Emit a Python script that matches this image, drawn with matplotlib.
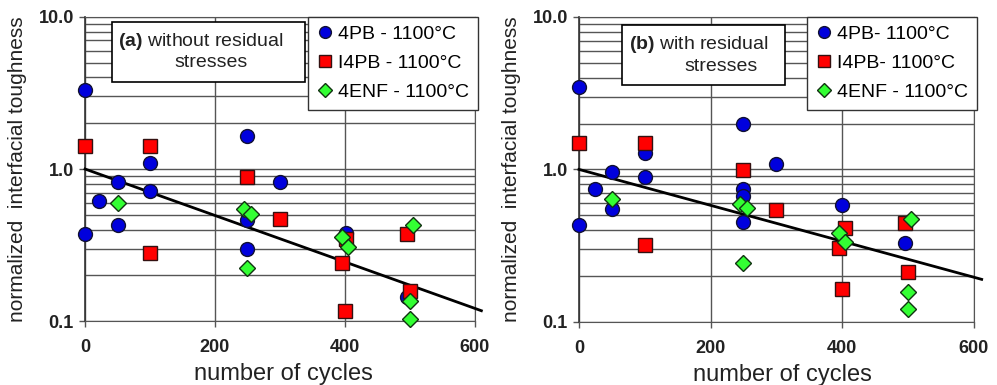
import numpy as np
import matplotlib
matplotlib.use("Agg")
import matplotlib.pyplot as plt
from matplotlib.patches import Rectangle

plt.rcParams['font.family'] = ['Liberation Sans', 'DejaVu Sans']
plt.rcParams['mathtext.fontset'] = 'custom'
plt.rcParams['mathtext.bf'] = 'Liberation Sans:bold'
plt.rcParams['mathtext.rm'] = 'Liberation Sans'

# panel (a): without residual stresses
a_4pb_x = [0, 0, 22, 50, 50, 100, 100, 250, 250, 250, 300, 402, 495]
a_4pb_y = [3.29, 0.374, 0.62, 0.817, 0.43, 1.095, 0.713, 1.66, 0.46, 0.298, 0.817, 0.379, 0.145]
a_i4pb_x = [0, 100, 100, 250, 300, 402, 395, 400, 495, 500]
a_i4pb_y = [1.41, 1.41, 0.28, 0.88, 0.47, 0.347, 0.241, 0.117, 0.374, 0.158]
a_4enf_x = [50, 245, 255, 250, 395, 405, 505, 500, 500]
a_4enf_y = [0.597, 0.548, 0.506, 0.223, 0.356, 0.307, 0.426, 0.135, 0.103]
a_trend_x = [0, 610]
a_trend_y = [1.0, 0.117]

# panel (b): with residual stresses
b_4pb_x = [0, 0, 25, 50, 50, 100, 100, 250, 250, 250, 250, 300, 400, 495]
b_4pb_y = [3.46, 0.43, 0.747, 0.96, 0.553, 1.285, 0.89, 1.99, 0.747, 0.669, 0.452, 1.08, 0.584, 0.327]
b_i4pb_x = [0, 100, 100, 250, 300, 405, 395, 400, 495, 500]
b_i4pb_y = [1.49, 1.49, 0.318, 0.985, 0.542, 0.415, 0.304, 0.164, 0.443, 0.211]
b_4enf_x = [50, 245, 255, 250, 395, 405, 505, 500, 500]
b_4enf_y = [0.637, 0.59, 0.556, 0.245, 0.385, 0.336, 0.471, 0.157, 0.122]
b_trend_x = [0, 612]
b_trend_y = [1.0, 0.19]

xticks = [0, 200, 400, 600]
yticks = [0.1, 1.0, 10.0]
ytick_labels = ['0.1', '1.0', '10.0']

fig = plt.figure(figsize=(9.97, 3.85), dpi=100)

panels = [
    dict(rect=[0.0853, 0.166, 0.391, 0.790], tag='(a)', line1=' without residual',
         data=(a_4pb_x, a_4pb_y, a_i4pb_x, a_i4pb_y, a_4enf_x, a_4enf_y, a_trend_x, a_trend_y),
         labels=['4PB - 1100°C', 'I4PB - 1100°C', '4ENF - 1100°C'],
         box=(0.069, 0.786, 0.495, 0.198), t1=(0.085, 0.918), t2=(0.23, 0.849), xl=0.51),
    dict(rect=[0.5807, 0.164, 0.396, 0.792], tag='(b)', line1=' with residual',
         data=(b_4pb_x, b_4pb_y, b_i4pb_x, b_i4pb_y, b_4enf_x, b_4enf_y, b_trend_x, b_trend_y),
         labels=['4PB- 1100°C', 'I4PB- 1100°C', '4ENF - 1100°C'],
         box=(0.109, 0.778, 0.413, 0.197), t1=(0.127, 0.908), t2=(0.268, 0.836), xl=0.516),
]

for p in panels:
    ax = fig.add_axes(p['rect'])
    x1, y1, x2, y2, x3, y3, tx, ty = p['data']
    ax.set_yscale('log')
    ax.set_xlim(0, 600)
    ax.set_ylim(0.1, 10)

    ax.grid(True, which='both', axis='y', color='#555555', lw=1.0)
    ax.grid(True, which='major', axis='x', color='#555555', lw=1.0)
    ax.set_axisbelow(True)
    for s in ['top', 'right', 'bottom']:
        ax.spines[s].set_color('#555555')
    ax.spines['left'].set_color('#333333')
    ax.spines['left'].set_linewidth(1.2)

    ax.plot(tx, ty, color='black', lw=2, zorder=3, clip_on=False)
    h1, = ax.plot(x1, y1, 'o', ms=10, mfc='#0000dd', mec='#111133', mew=1, ls='none',
                  zorder=4, clip_on=False, label=p['labels'][0])
    h2, = ax.plot(x2, y2, 's', ms=9.5, mfc='#ff0000', mec='#331111', mew=1, ls='none',
                  zorder=4, clip_on=False, label=p['labels'][1])
    h3, = ax.plot(x3, y3, 'D', ms=8.5, mfc='#33ff33', mec='#113311', mew=1, ls='none',
                  zorder=5, clip_on=False, label=p['labels'][2])

    ax.set_xticks(xticks)
    ax.set_xticklabels([str(v) for v in xticks])
    ax.set_yticks(yticks)
    ax.set_yticklabels(ytick_labels)
    ax.yaxis.set_minor_formatter(plt.NullFormatter())
    ax.tick_params(axis='y', which='minor', length=0)
    ax.tick_params(axis='both', which='major', length=4, width=1, color='#555555',
                   labelsize=13, direction='out')
    ax.tick_params(axis='x', pad=9)
    ax.tick_params(axis='y', pad=4)
    for lab in ax.get_xticklabels() + ax.get_yticklabels():
        lab.set_fontweight('bold')
        lab.set_color('#222222')

    ax.set_xlabel('number of cycles', fontsize=17, color='#222222')
    ax.set_ylabel('normalized  interfacial toughness', fontsize=15, color='#222222')
    ax.xaxis.set_label_coords(p['xl'], -0.138)
    ax.yaxis.set_label_coords(-0.148, 0.5)

    bx, by, bw, bh = p['box']
    ax.add_patch(Rectangle((bx, by), bw, bh, transform=ax.transAxes, facecolor='white',
                           edgecolor='black', lw=1.2, zorder=6))
    ax.text(p['t1'][0], p['t1'][1], r'$\bf{' + p['tag'] + '}$' + p['line1'],
            transform=ax.transAxes, fontsize=14, va='center', ha='left', zorder=7,
            color='#222222')
    ax.text(p['t2'][0], p['t2'][1], 'stresses', transform=ax.transAxes, fontsize=14,
            va='center', ha='left', zorder=7, color='#222222')

    leg = ax.legend(handles=[h1, h2, h3], loc='upper right', bbox_to_anchor=(1.008, 1.0),
                    fontsize=14, frameon=True, fancybox=False, framealpha=1,
                    edgecolor='#333333', borderpad=0.45, labelspacing=0.58,
                    handlelength=0.8, handletextpad=0.3, borderaxespad=0,
                    markerscale=0.85)
    leg.get_frame().set_linewidth(1.0)
    leg.set_zorder(8)

fig.savefig('out.png', dpi=100)
